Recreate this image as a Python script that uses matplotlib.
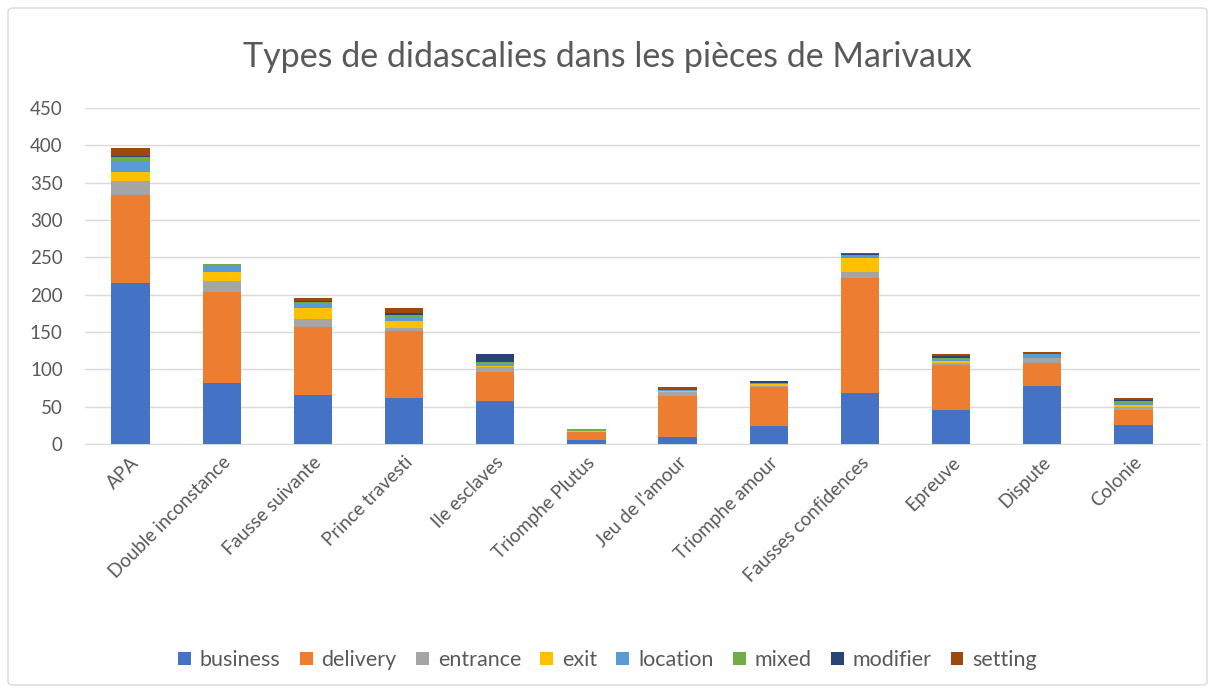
import numpy as np
import matplotlib.pyplot as plt
from matplotlib.patches import FancyBboxPatch

plt.rcParams['font.family'] = ['Lato', 'DejaVu Sans']

# Pièces et types de didascalies
pieces = ['APA', 'Double inconstance', 'Fausse suivante', 'Prince travesti',
          'Ile esclaves', 'Triomphe Plutus', "Jeu de l'amour", 'Triomphe amour',
          'Fausses confidences', 'Epreuve', 'Dispute', 'Colonie']

business = [215, 82, 66, 61, 57, 5, 10, 24, 68, 45, 78, 26]
delivery = [118, 122, 91, 91, 40, 11, 54, 52, 154, 61, 31, 20]
entrance = [19, 14, 10, 4, 6, 0, 5, 2, 9, 3, 6, 4]
exit_ = [12, 12, 15, 9, 1, 2, 2, 2, 18, 2, 0, 2]
location = [15, 8, 6, 5, 3, 0, 1, 2, 3, 2, 5, 3]
mixed = [5, 3, 2, 3, 3, 2, 0, 0, 1, 2, 0, 2]
modifier = [2, 0, 1, 2, 11, 0, 0, 2, 1, 3, 0, 2]
setting = [11, 0, 4, 7, 0, 0, 5, 1, 2, 2, 3, 3]

series = [('business', business, '#4472C4'),
          ('delivery', delivery, '#ED7D31'),
          ('entrance', entrance, '#A5A5A5'),
          ('exit', exit_, '#FFC000'),
          ('location', location, '#5B9BD5'),
          ('mixed', mixed, '#70AD47'),
          ('modifier', modifier, '#264478'),
          ('setting', setting, '#9E480E')]

fig = plt.figure(figsize=(12.15, 6.93), dpi=100)
ax = fig.add_axes([85 / 1215, 1 - 444 / 693, 1115 / 1215, 336 / 693])

x = np.arange(len(pieces))
bas = np.zeros(len(pieces))
for nom, valeurs, couleur in series:
    ax.bar(x, valeurs, 0.42, bottom=bas, color=couleur, label=nom, zorder=3)
    bas += np.array(valeurs)

ax.set_ylim(0, 450)
ax.set_yticks(range(0, 451, 50))
ax.set_xlim(-0.5, 11.5 + 21 / 91)
ax.set_xticks(x)
ax.set_xticklabels(pieces, rotation=45, ha='right', rotation_mode='anchor')
ax.tick_params(axis='both', length=0, labelsize=13.5, colors='#595959')
ax.tick_params(axis='y', pad=16)
ax.tick_params(axis='x', pad=7)
ax.grid(axis='y', color='#D9D9D9', linewidth=1, zorder=0)
for s in ['top', 'right', 'left']:
    ax.spines[s].set_visible(False)
ax.spines['bottom'].set_color('#D9D9D9')

fig.text(0.5, 1 - 57 / 693, 'Types de didascalies dans les pièces de Marivaux',
         ha='center', va='center', fontsize=24.5, color='#595959')

fig.legend(loc='center', bbox_to_anchor=(0.5, 1 - 660 / 693), ncol=8,
           frameon=False, fontsize=15.5, handlelength=0.6, handleheight=0.6,
           columnspacing=0.9, handletextpad=0.4, labelcolor='#595959')

fig.patches.append(FancyBboxPatch((8 / 1215, 8 / 693), 1199 / 1215, 677 / 693,
                                  boxstyle='round,pad=0,rounding_size=0.005',
                                  transform=fig.transFigure, fill=False,
                                  edgecolor='#D9D9D9', linewidth=1))

fig.savefig('out.png', dpi=100)
